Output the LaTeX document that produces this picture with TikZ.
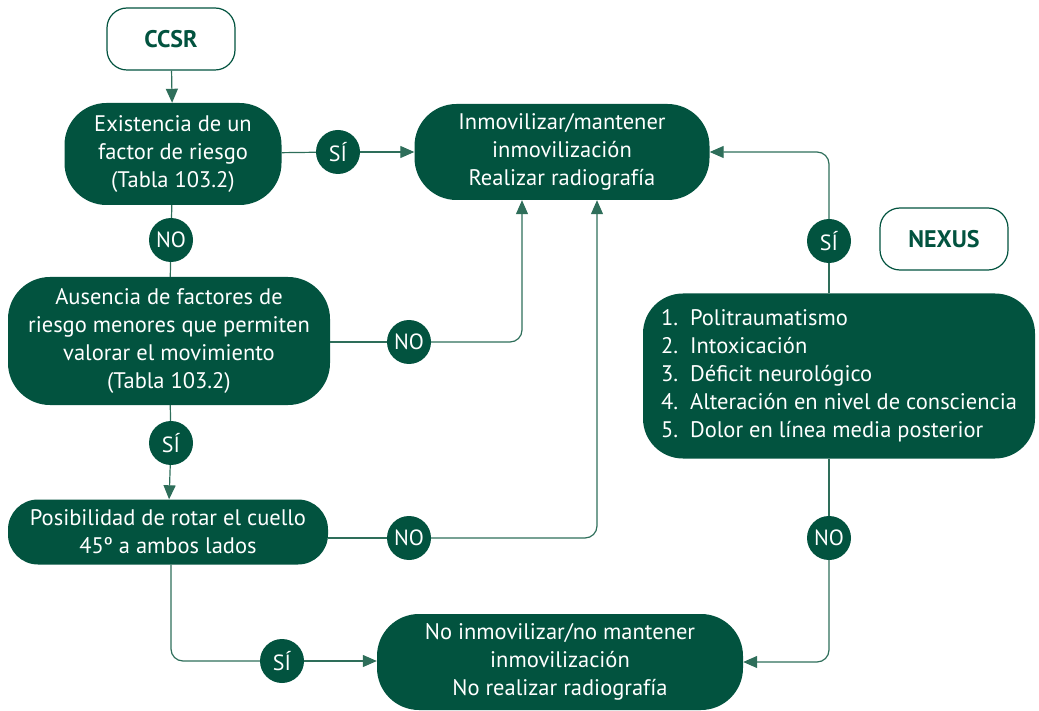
\documentclass[tikz,border=0pt]{standalone}
\usepackage{fontspec}
\setmainfont{PT Sans}
\usetikzlibrary{arrows.meta,positioning}

\definecolor{pine}{HTML}{02533F}
\definecolor{pineline}{HTML}{2E6E5A}

\tikzset{
    box/.style={draw=none, fill=pine, text=white, rounded corners=42pt,
        align=center, inner sep=0pt, font=\fontsize{22.5}{28}\selectfont},
    startbox/.style={draw=pine, line width=1.2pt, fill=white, text=pine, rounded corners=20pt,
        minimum width=128pt, minimum height=62pt, font=\fontsize{24}{28}\selectfont\bfseries},
    answer/.style={circle, fill=pine, text=white, minimum size=44pt, inner sep=0pt,
        font=\fontsize{22}{26}\selectfont},
    link/.style={draw=pineline, line width=1.2pt, rounded corners=12pt},
    go/.style={link, -{Triangle[length=14pt,width=12pt]}},
}

\begin{document}
\begin{tikzpicture}[x=1pt, y=-1pt]
    \useasboundingbox (0,0) rectangle (1039,711);

    % CCSR branch
    \node[startbox] (ccsr) at (171,39) {CCSR};
    \node[box, minimum width=217pt, minimum height=102pt] (riesgo) at (173,154)
        {Existencia de un\\factor de riesgo\\(Tabla 103.2)};
    \node[box, minimum width=322pt, minimum height=128pt] (menores) at (169,341)
        {Ausencia de factores de\\riesgo menores que permiten\\valorar el movimiento\\(Tabla 103.2)};
    \node[box, rounded corners=30pt, minimum width=320pt, minimum height=65pt] (rotar) at (168,532)
        {Posibilidad de rotar el cuello\\45º a ambos lados};

    % results
    \node[box, minimum width=295pt, minimum height=96pt] (inmov) at (562,152)
        {Inmovilizar/mantener\\inmovilización\\Realizar radiografía};
    \node[box, minimum width=366pt, minimum height=96pt] (noinmov) at (560,662)
        {No inmovilizar/no mantener\\inmovilización\\No realizar radiografía};

    % NEXUS branch
    \node[startbox] (nexus) at (944,239) {NEXUS};
    \node[box, rounded corners=40pt, minimum width=392pt, minimum height=165pt] (criterios) at (839,376)
        {\begin{tabular}{@{}l@{\hspace{12pt}}l@{}}
            1. & Politraumatismo\\
            2. & Intoxicación\\
            3. & Déficit neurológico\\
            4. & Alteración en nivel de consciencia\\
            5. & Dolor en línea media posterior
        \end{tabular}};

    % answer circles
    \node[answer] (si1) at (338,152) {SÍ};
    \node[answer] (no1) at (171,240) {NO};
    \node[answer] (no2) at (409,342) {NO};
    \node[answer] (si2) at (171,443) {SÍ};
    \node[answer] (no3) at (409,538) {NO};
    \node[answer] (si3) at (282,661) {SÍ};
    \node[answer] (si4) at (829,241) {SÍ};
    \node[answer] (no4) at (829,538) {NO};

    % connectors
    \draw[go] (ccsr) -- (riesgo);
    \draw[link] (riesgo) -- (si1);
    \draw[go] (si1) -- (inmov);
    \draw[link] (riesgo) -- (no1) -- (menores);
    \draw[link] (menores.east |- no2) -- (no2);
    \draw[go] (no2) -| ([xshift=-40pt]inmov.south);
    \draw[link] (menores) -- (si2);
    \draw[go] (si2) -- (rotar);
    \draw[link] (rotar.east |- no3) -- (no3);
    \draw[go] (no3) -| ([xshift=35pt]inmov.south);
    \draw[link] (rotar.south -| si2) |- (si3);
    \draw[go] (si3) -- (noinmov.west |- si3);
    \draw[link] (criterios.north -| si4) -- (si4);
    \draw[go] (si4) |- (inmov.east);
    \draw[link] (criterios.south -| no4) -- (no4);
    \draw[go] (no4) |- (noinmov.east);
\end{tikzpicture}
\end{document}
